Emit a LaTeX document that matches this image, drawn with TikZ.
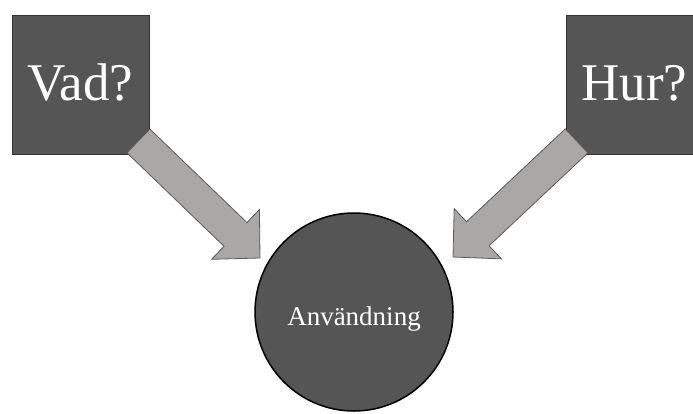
\documentclass[tikz,border=0pt]{standalone}
\usepackage{fontspec}
\setmainfont{Liberation Serif}
\usetikzlibrary{positioning}
\usetikzlibrary{calc}
\definecolor{boxgray}{RGB}{85,85,85}
\definecolor{arrowgray}{RGB}{170,167,167}
\definecolor{edgegray}{RGB}{90,90,90}
\newcommand{\blockarrow}[2]{%
    \coordinate (ba) at ($(#2)!34pt!(#1)$);
    \draw[flow] ($(#1)!16.5pt!90:(#2)$) -- ($(ba)!16.5pt!90:(#2)$) -- ($(ba)!34.5pt!90:(#2)$) -- (#2)
        -- ($(ba)!34.5pt!-90:(#2)$) -- ($(ba)!16.5pt!-90:(#2)$) -- ($(#1)!16.5pt!-90:(#2)$) -- cycle;
}
\newcommand{\basedown}[2]{\raisebox{-#1}[0pt][0pt]{#2}}

\begin{document}
\begin{tikzpicture}[x=1pt, y=-1pt,
    box/.style={draw=black!80, line width=0.8pt, fill=boxgray, text=white, minimum width=137pt, minimum height=139pt, inner sep=0pt, font=\fontsize{53}{53}\selectfont},
    hub/.style={circle, draw=black, line width=1.5pt, fill=boxgray, text=white, minimum size=198pt, inner sep=0pt, font=\fontsize{27}{27}\selectfont},
    flow/.style={fill=arrowgray, draw=edgegray, line width=0.8pt, line join=miter}]
    \useasboundingbox (0,0) rectangle (693,413);
    \node[box] (vad) at (80.5,84.5) {\basedown{15.5pt}{Vad?}\hspace{10pt}};
    \node[box] (hur) at (634.5,84.5) {\basedown{15.5pt}{Hur?}\hspace{10pt}};
    \node[hub] (anv) at (354,312) {\basedown{13pt}{Användning}};
    % arrows into the circle
    \coordinate (vadstart) at ($(vad.south east)+(-11,-13.5)$);
    \coordinate (vadtip) at ($(anv.center)+(-94,-54)$);
    \coordinate (hurstart) at ($(hur.south west)+(11,-13.5)$);
    \coordinate (hurtip) at ($(anv.center)+(99,-55)$);
    \blockarrow{vadstart}{vadtip}
    \blockarrow{hurstart}{hurtip}
\end{tikzpicture}
\end{document}
